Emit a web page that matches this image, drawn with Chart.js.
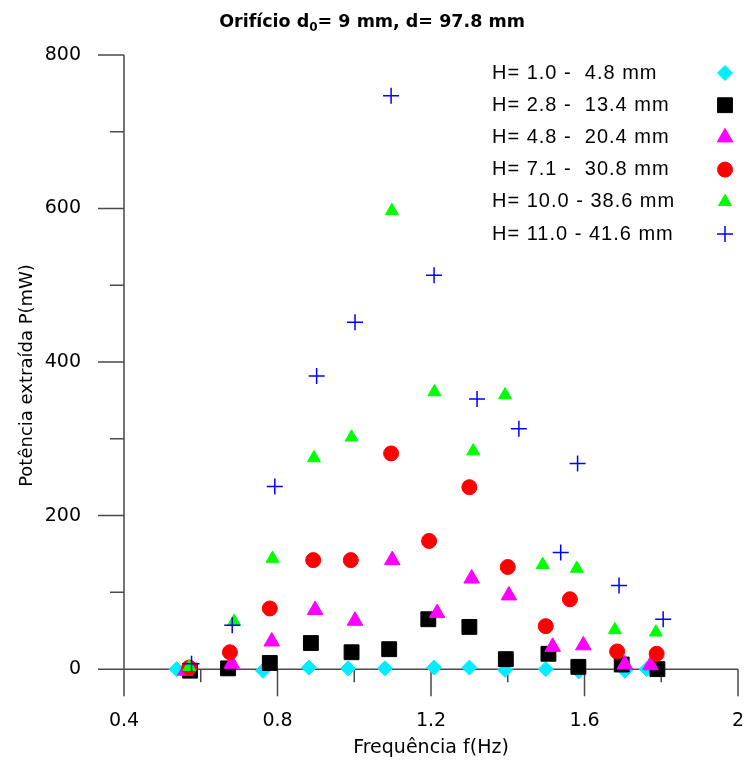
<!DOCTYPE html>
<html>
<head>
<meta charset="utf-8">
<title>Potência extraída x frequência</title>
<script src="https://cdn.jsdelivr.net/npm/chart.js@4.4.1/dist/chart.umd.min.js"></script>
<style>
  html, body { margin: 0; padding: 0; background: #fff; }
  #canvas-holder { width: 745px; height: 761px; }
</style>
</head>
<body>
<div id="canvas-holder"><canvas id="chart" width="745" height="761"></canvas></div>
<script>
// series names (legend)
var seriesNames = ["H= 1.0 -  4.8 mm", "H= 2.8 -  13.4 mm", "H= 4.8 -  20.4 mm",
                   "H= 7.1 -  30.8 mm", "H= 10.0 - 38.6 mm", "H= 11.0 - 41.6 mm"];

// values: frequency (Hz) and extracted power (mW)
var fH1 = [0.537, 0.762, 0.882, 0.984, 1.080, 1.208, 1.300, 1.393, 1.499, 1.585, 1.705, 1.762];
var pH1 = [0, -2, 2, 1, 1, 2, 2, -1, 0, -3, -2, 0];

var fH2 = [0.572, 0.671, 0.780, 0.887, 0.993, 1.091, 1.193, 1.300, 1.395, 1.506, 1.584, 1.697, 1.790];
var pH2 = [-2, 1, 8, 34, 22, 26, 65, 55, 13, 20, 3, 6, 0];

var fH3 = [0.560, 0.681, 0.785, 0.898, 1.002, 1.099, 1.216, 1.306, 1.403, 1.517, 1.597, 1.705, 1.772];
var pH3 = [-2, 7, 36, 77, 63, 142, 73, 118, 96, 29, 31, 6, 5];

var fH4 = [0.570, 0.676, 0.780, 0.893, 0.991, 1.096, 1.195, 1.300, 1.400, 1.499, 1.562, 1.685, 1.788];
var pH4 = [2, 22, 79, 142, 142, 281, 167, 237, 133, 56, 91, 23, 20];

var fH5 = [0.570, 0.687, 0.787, 0.895, 0.993, 1.098, 1.209, 1.310, 1.393, 1.491, 1.580, 1.679, 1.786];
var pH5 = [3, 62, 144, 275, 302, 597, 361, 284, 357, 136, 131, 51, 48];

var fH6 = [0.576, 0.682, 0.793, 0.902, 1.002, 1.096, 1.208, 1.320, 1.429, 1.538, 1.582, 1.690, 1.805];
var pH6 = [7, 57, 238, 382, 452, 747, 513, 352, 313, 152, 268, 109, 65];

// ticks
var xTicks = [0.4, 0.6, 0.8, 1.0, 1.2, 1.4, 1.6, 1.8, 2.0];
var xTickLabels = ["0.4", "", "0.8", "", "1.2", "", "1.6", "", "2"];
var yTicks = [0, 100, 200, 300, 400, 500, 600, 700, 800];
var yTickLabels = ["0", "", "200", "", "400", "", "600", "", "800"];

var axisColor = "#4a4a4a";

function pts(fs, ps) {
    var out = [];
    for (var i = 0; i < fs.length; i++) out.push({x: fs[i], y: ps[i]});
    return out;
}

function noPadding(s) {
    s.paddingLeft = 0; s.paddingRight = 0; s.paddingTop = 0; s.paddingBottom = 0;
}

// marker styles, same order as seriesNames
var markers = [
    {color: "#00eeff", style: "rectRot",  radius: 7.5,  border: 1},
    {color: "#000000", style: "rect",     radius: 10.5, border: 1},
    {color: "#ff00ff", style: "triangle", radius: 9,    border: 1},
    {color: "#ff0000", style: "circle",   radius: 7.5,  border: 1},
    {color: "#00ff00", style: "triangle", radius: 7.5,  border: 1},
    {color: "#0000ff", style: "cross",    radius: 8,    border: 1.5}
];
var seriesData = [pts(fH1, pH1), pts(fH2, pH2), pts(fH3, pH3), pts(fH4, pH4), pts(fH5, pH5), pts(fH6, pH6)];

var datasets = seriesNames.map(function (name, i) {
    var m = markers[i];
    return {
        label: name,
        data: seriesData[i],
        showLine: false,
        order: seriesNames.length - 1 - i, // later series on top
        pointStyle: m.style,
        pointRadius: m.radius,
        pointHoverRadius: m.radius,
        pointBackgroundColor: m.color,
        pointBorderColor: m.color,
        pointBorderWidth: m.border,
        backgroundColor: m.color,
        borderColor: m.color,
        clip: false
    };
});

// axis line at P = 0, y axis line and the tick marks (minor ones shorter)
var framePlugin = {
    id: "frame",
    beforeDatasetsDraw: function (chart) {
        var ctx = chart.ctx, xs = chart.scales.x, ys = chart.scales.y;
        var y0 = ys.getPixelForValue(0);
        ctx.save();
        ctx.strokeStyle = axisColor;
        ctx.lineWidth = 1.5;
        ctx.beginPath();
        ctx.moveTo(xs.left, ys.top);
        ctx.lineTo(xs.left, ys.bottom);
        ctx.moveTo(xs.left, y0);
        ctx.lineTo(xs.right, y0);
        yTicks.forEach(function (v, i) {
            var y = ys.getPixelForValue(v);
            var len = yTickLabels[i] ? 26 : 14;
            ctx.moveTo(xs.left - len, y);
            ctx.lineTo(xs.left, y);
        });
        xTicks.forEach(function (v, i) {
            var x = xs.getPixelForValue(v);
            var len = xTickLabels[i] ? 27 : 13;
            ctx.moveTo(x, y0);
            ctx.lineTo(x, y0 + len);
        });
        ctx.stroke();
        ctx.restore();
    }
};

// title with the subscript in d0
var titlePlugin = {
    id: "subTitle",
    afterDraw: function (chart) {
        var ctx = chart.ctx;
        var a = "Orifício d", sub = "0", b = "= 9 mm, d= 97.8 mm";
        var big = "bold 17.5px 'DejaVu Sans'", small = "bold 12px 'DejaVu Sans'";
        ctx.save();
        ctx.fillStyle = "#000";
        ctx.textBaseline = "alphabetic";
        ctx.font = big;
        var wa = ctx.measureText(a).width, wb = ctx.measureText(b).width;
        ctx.font = small;
        var ws = ctx.measureText(sub).width;
        var x = 372 - (wa + ws + wb) / 2, y = 27;
        ctx.font = big;
        ctx.fillText(a, x, y);
        ctx.font = small;
        ctx.fillText(sub, x + wa, y + 4);
        ctx.font = big;
        ctx.fillText(b, x + wa + ws, y);
        ctx.restore();
    }
};

// legend: text on the left, marker on the right
var legendPlugin = {
    id: "sideLegend",
    afterDraw: function (chart) {
        var ctx = chart.ctx;
        ctx.save();
        ctx.font = "20px 'Liberation Sans'";
        ctx.letterSpacing = "1px";
        ctx.textBaseline = "middle";
        ctx.textAlign = "left";
        chart.data.datasets.forEach(function (ds, i) {
            var y = 73 + i * 32.2;
            ctx.fillStyle = "#000";
            ctx.fillText(ds.label, 492, y);
            var m = markers[i];
            ctx.fillStyle = m.color;
            ctx.strokeStyle = m.color;
            ctx.lineWidth = m.border;
            if (Chart.helpers && Chart.helpers.drawPoint) {
                Chart.helpers.drawPoint(ctx, {pointStyle: m.style, radius: m.radius, rotation: 0, borderWidth: m.border}, 725, y);
            }
        });
        ctx.restore();
    }
};

var canvas = document.getElementById("chart");
var ctx = canvas.getContext("2d");

new Chart(ctx, {
    type: "scatter",
    data: {datasets: datasets},
    options: {
        responsive: false,
        animation: false,
        devicePixelRatio: 1,
        layout: {autoPadding: false, padding: {top: 55, right: 7, bottom: 0, left: 0}},
        plugins: {
            legend: {display: false},
            title: {display: false},
            tooltip: {enabled: false}
        },
        scales: {
            x: {
                type: "linear",
                min: 0.4,
                max: 2,
                afterBuildTicks: function (s) { s.ticks = xTicks.map(function (v) { return {value: v}; }); },
                afterFit: function (s) { s.height = 65; noPadding(s); },
                grid: {display: false, drawTicks: false},
                border: {display: false},
                ticks: {
                    autoSkip: false,
                    maxRotation: 0,
                    padding: 14,
                    color: "#000",
                    font: {family: "DejaVu Sans", size: 19},
                    callback: function (v, i) { return xTickLabels[i]; }
                },
                title: {
                    display: true,
                    text: "Frequência f(Hz)",
                    color: "#000",
                    font: {family: "DejaVu Sans", size: 19},
                    padding: {top: 0, bottom: 2}
                }
            },
            y: {
                type: "linear",
                min: -35,
                max: 800,
                afterBuildTicks: function (s) { s.ticks = yTicks.map(function (v) { return {value: v}; }); },
                afterFit: function (s) { s.width = 124; noPadding(s); },
                grid: {display: false, drawTicks: false},
                border: {display: false},
                ticks: {
                    padding: 43,
                    color: "#000",
                    font: {family: "DejaVu Sans", size: 19},
                    callback: function (v, i) { return yTickLabels[i]; }
                },
                title: {
                    display: true,
                    text: "Potência extraída P(mW)",
                    color: "#000",
                    font: {family: "DejaVu Sans", size: 18},
                    padding: {top: 17, bottom: 0}
                }
            }
        }
    },
    plugins: [framePlugin, titlePlugin, legendPlugin]
});
</script>
</body>
</html>
